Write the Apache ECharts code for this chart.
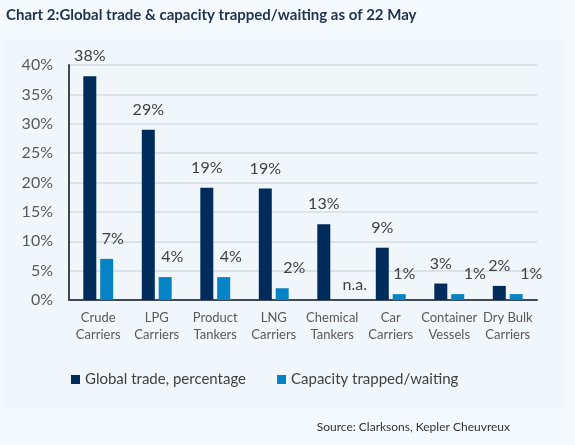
<!DOCTYPE html>
<html>
<head>
<meta charset="utf-8">
<script src="https://cdn.jsdelivr.net/npm/echarts@6/dist/echarts.min.js"></script>
<style>
  html, body { margin: 0; padding: 0; background: #f4f9fd; }
  #chart { width: 575px; height: 445px; }
</style>
</head>
<body>
<div id="chart"></div>
<script>
// chart data
const categories = ['Crude\nCarriers', 'LPG\nCarriers', 'Product\nTankers', 'LNG\nCarriers',
  'Chemical\nTankers', 'Car\nCarriers', 'Container\nVessels', 'Dry Bulk\nCarriers']
const globalTrade = [38.1, 29.0, 19.1, 19.0, 12.9, 8.9, 2.8, 2.4]
const capacityTrapped = [7.0, 3.9, 3.9, 2.0, null, 1.0, 1.0, 1.0]
const yTicks = [0, 5, 10, 15, 20, 25, 30, 35, 40]

const seriesNames = ['Global trade, percentage', 'Capacity trapped/waiting']
const FONT = 'Lato, "Noto Sans", sans-serif'

// labels of the light bars sit a little to the right in the original
const lightLabelShift = [6, 7, 7, 12, 14, 5, 17, 15]

const chart = echarts.init(document.getElementById('chart'))

const pct = p => (p.value == null ? 'n.a.' : Math.round(p.value) + '%')

// n.a. value drawn as an invisible zero bar carrying its label
const capacityData = capacityTrapped.map((v, i) => {
  if (v == null) {
    return { value: 0, itemStyle: { color: 'rgba(0,0,0,0)' },
      label: { formatter: 'n.a.', offset: [lightLabelShift[i], 5] } }
  }
  return { value: v, label: { offset: [lightLabelShift[i], 0] } }
})

chart.setOption({
  backgroundColor: '#f4f9fd',
  textStyle: { fontFamily: FONT },
  graphic: [
    {
      type: 'rect', left: 5, top: 40, z: -10,
      shape: { width: 558, height: 369 },
      style: { fill: '#f1f6fa' }
    },
    {
      type: 'text', left: 6, top: 8,
      style: { text: 'Chart 2:Global trade & capacity trapped/waiting as of 22 May',
        fontFamily: FONT, fontSize: 15, fontWeight: 'bold', fill: '#22354f' }
    },
    {
      type: 'text', right: 65, top: 421,
      style: { text: 'Source: Clarksons, Kepler Cheuvreux',
        fontFamily: FONT, fontSize: 12, fill: '#333' }
    }
  ],
  grid: { left: 69, right: 38, top: 65, bottom: 145 },
  legend: {
    left: 66, top: 367,
    icon: 'rect', itemWidth: 9, itemHeight: 9, itemGap: 31,
    textStyle: { fontSize: 15, color: '#404040', fontFamily: FONT },
    data: seriesNames
  },
  xAxis: {
    type: 'category',
    data: categories,
    axisLine: { lineStyle: { color: '#3c4a5a', width: 2 } },
    axisTick: { show: false },
    axisLabel: { interval: 0, fontSize: 13, lineHeight: 17, color: '#595959', margin: 9, fontFamily: FONT }
  },
  yAxis: {
    type: 'value',
    min: yTicks[0], max: yTicks[yTicks.length - 1], interval: 5,
    axisLine: { show: true, lineStyle: { color: '#3c4a5a', width: 2 } },
    axisTick: { show: false },
    axisLabel: { formatter: '{value}%', fontSize: 16, color: '#595959', margin: 16, fontFamily: FONT },
    splitLine: { lineStyle: { color: '#dce2ea', width: 2 } }
  },
  series: [
    {
      name: seriesNames[0],
      type: 'bar',
      data: globalTrade,
      barWidth: 13,
      barGap: '30%',
      itemStyle: { color: '#002c5c' },
      label: { show: true, position: 'top', distance: 12, fontSize: 16, color: '#404040', formatter: pct }
    },
    {
      name: seriesNames[1],
      type: 'bar',
      data: capacityData,
      barWidth: 13,
      itemStyle: { color: '#0583c4' },
      label: { show: true, position: 'top', distance: 12, fontSize: 16, color: '#404040', formatter: pct }
    }
  ]
})
</script>
</body>
</html>
